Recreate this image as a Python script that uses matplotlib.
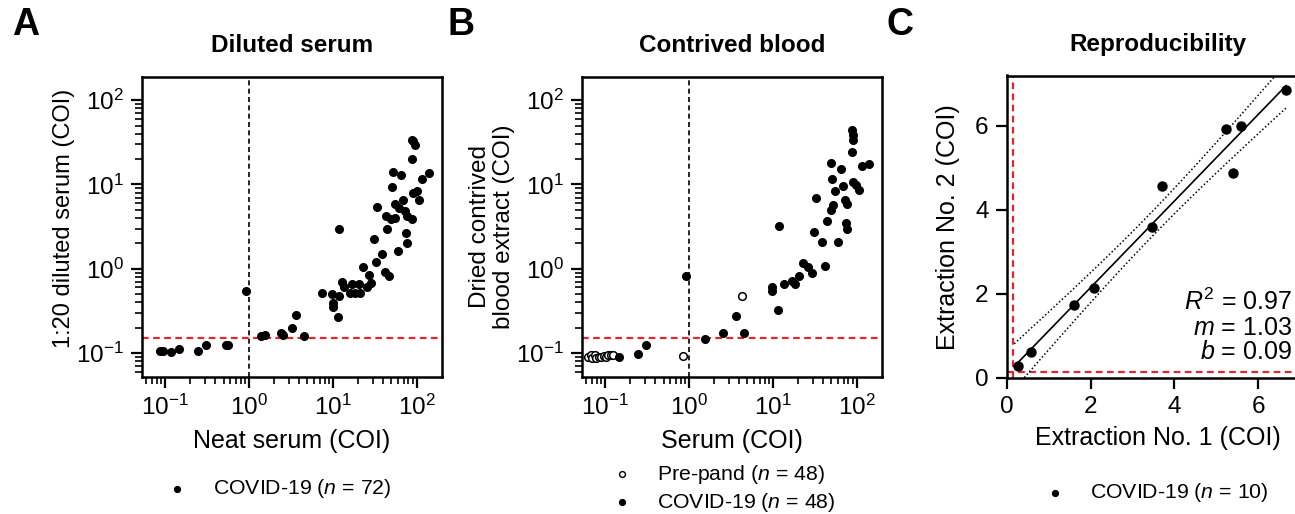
import numpy as np
import matplotlib
matplotlib.use('Agg')
import matplotlib.pyplot as plt
from matplotlib.lines import Line2D
from matplotlib.ticker import LogLocator, NullFormatter

plt.rcParams['font.family'] = ['Liberation Sans', 'DejaVu Sans']
plt.rcParams['mathtext.fontset'] = 'custom'
plt.rcParams['mathtext.rm'] = 'Liberation Sans'
plt.rcParams['mathtext.it'] = 'Liberation Sans:italic'
plt.rcParams['mathtext.bf'] = 'Liberation Sans:bold'
plt.rcParams['axes.unicode_minus'] = False

# ---------------- data ----------------
# Panel A: Diluted serum (COVID-19, n = 72)
a_neat = [0.087, 0.095, 0.117, 0.148, 0.25, 0.31, 0.54, 0.56, 0.93, 1.38, 1.55,
          2.4, 2.57, 3.24, 3.7, 4.6, 7.4, 9.8, 10.0, 10.0, 11.7, 12.0, 12.0,
          12.9, 13.5, 16.2, 17.0, 18.6, 20.4, 20.9, 22.9, 25.7, 26.9, 28.8,
          30.9, 33.1, 33.9, 38.9, 41.7, 46.8, 43.7, 44.7, 50.1, 52.5, 51.3,
          55.0, 55.0, 60.3, 61.7, 64.6, 69.2, 72.4, 74.1, 75.9, 77.6, 87.1,
          87.1, 87.1, 91.2, 95.5, 91.2, 100.0, 107.0, 117.0, 141.0]
a_dil = [0.107, 0.107, 0.102, 0.112, 0.107, 0.126, 0.126, 0.123, 0.55, 0.158,
         0.162, 0.174, 0.162, 0.20, 0.28, 0.158, 0.51, 0.50, 0.39, 0.355, 0.27,
         0.48, 3.0, 0.69, 0.60, 0.52, 0.66, 0.52, 0.66, 0.52, 1.05, 0.60, 0.85,
         0.68, 2.24, 1.20, 5.4, 1.51, 0.91, 0.81, 4.27, 3.0, 3.9, 14.1, 9.3,
         4.0, 5.9, 1.62, 5.2, 12.9, 6.5, 4.9, 2.63, 2.04, 4.27, 3.9, 20.0,
         33.9, 32.4, 29.5, 7.9, 8.3, 6.5, 11.7, 13.8]

# Panel B: Contrived blood
b_pre_serum = [0.063, 0.068, 0.071, 0.076, 0.079, 0.085, 0.091, 0.097, 0.103,
               0.110, 0.118, 0.124, 0.85, 4.3]
b_pre_blood = [0.091, 0.096, 0.088, 0.094, 0.088, 0.091, 0.090, 0.093, 0.089,
               0.095, 0.096, 0.094, 0.092, 0.47]
b_cov_serum = [0.148, 0.25, 0.31, 0.93, 1.55, 2.57, 3.7, 4.6, 9.8, 9.8, 11.7,
               12.0, 13.5, 17.0, 18.2, 20.4, 22.9, 26.3, 29.5, 30.9, 33.1, 38.9,
               41.7, 44.7, 49.0, 52.5, 50.1, 51.3, 55.0, 60.3, 64.6, 69.2, 72.4,
               77.6, 74.1, 77.6, 87.1, 87.1, 91.2, 91.2, 91.2, 97.7, 107.0,
               117.0, 141.0]
b_cov_blood = [0.091, 0.098, 0.126, 0.83, 0.145, 0.174, 0.275, 0.174, 0.60,
               0.55, 0.32, 3.2, 0.66, 0.71, 0.66, 0.81, 1.17, 1.05, 0.89, 2.75,
               6.9, 2.09, 1.07, 3.7, 5.0, 5.75, 17.8, 11.5, 8.3, 2.09, 15.1, 9.5,
               6.5, 5.9, 3.5, 3.0, 24.5, 44.7, 38.9, 33.9, 10.7, 9.8, 8.7, 16.6,
               17.4]

# Panel C: Reproducibility
c_ext1 = [0.28, 0.57, 1.61, 2.08, 3.47, 3.71, 5.24, 5.40, 5.59, 6.66]
c_ext2 = [0.28, 0.62, 1.73, 2.15, 3.59, 4.58, 5.92, 4.87, 6.00, 6.85]

cutoff = 0.15
log_ticks = [0.1, 1, 10, 100]
lin_ticks = [0, 2, 4, 6]
titles = ['Diluted serum', 'Contrived blood', 'Reproducibility']
fit_text = [r'$R^2$ = 0.97', r'$m$ = 1.03', r'$b$ = 0.09']

# ---------------- figure ----------------
W, H = 1295, 514
fig = plt.figure(figsize=(W / 100, H / 100), dpi=100)
RED = '#e3262b'
LABEL_FS = 18
TICK_FS = 17.5


def px_axes(l, t, r, b):
    return fig.add_axes([l / W, 1 - b / H, (r - l) / W, (b - t) / H])


def style(ax):
    for s in ax.spines.values():
        s.set_linewidth(1.8)
    ax.tick_params(which='major', direction='out', length=8, width=1.6,
                   labelsize=TICK_FS, pad=5, top=False, right=False)
    ax.tick_params(which='minor', direction='out', length=5, width=1.2,
                   top=False, right=False)


def log_axes(ax):
    ax.set_xscale('log')
    ax.set_yscale('log')
    ax.set_xlim(0.053, 199)
    ax.set_ylim(0.052, 190)
    ax.set_xticks(log_ticks)
    ax.set_yticks(log_ticks)
    for axis in (ax.xaxis, ax.yaxis):
        axis.set_minor_locator(LogLocator(base=10, subs=np.arange(2, 10)))
        axis.set_minor_formatter(NullFormatter())
    ax.axvline(1, color='black', ls=(0, (3, 2)), lw=1.2, zorder=1)
    ax.axhline(cutoff, color=RED, ls=(0, (3, 2)), lw=1.6, zorder=1)
    style(ax)


axA = px_axes(141.7, 76.7, 441.7, 377)
axB = px_axes(581.7, 76.7, 881.7, 377)
axC = px_axes(1006.7, 75.5, 1308.7, 378)

# Panel A
log_axes(axA)
axA.plot(a_neat, a_dil, 'o', ms=5.5, color='black', zorder=3)
axA.set_title(titles[0], fontsize=17.5, fontweight='bold', pad=18)
axA.set_xlabel('Neat serum (COI)', fontsize=LABEL_FS, labelpad=6)
axA.set_ylabel('1:20 diluted serum (COI)', fontsize=17, labelpad=1)
axA.yaxis.label.set_y(0.528)

# Panel B
log_axes(axB)
axB.plot(b_pre_serum, b_pre_blood, 'o', ms=5.5, mfc='white', mec='black',
         mew=1.1, zorder=3)
axB.plot(b_cov_serum, b_cov_blood, 'o', ms=5.5, color='black', zorder=3)
axB.set_title(titles[1], fontsize=17.5, fontweight='bold', pad=18)
axB.set_xlabel('Serum (COI)', fontsize=LABEL_FS, labelpad=6)
axB.set_ylabel('Dried contrived\nblood extract (COI)', fontsize=17.5,
               labelpad=0.5, linespacing=1.15)

# Panel C
x1 = np.array(c_ext1)
x2 = np.array(c_ext2)
axC.set_xlim(0, 7.2)
axC.set_ylim(0, 7.2)
axC.set_xticks(lin_ticks)
axC.set_yticks(lin_ticks)
style(axC)
axC.axvline(cutoff, color=RED, ls=(0, (3, 2)), lw=1.6, zorder=1)
axC.axhline(cutoff, color=RED, ls=(0, (3, 2)), lw=1.6, zorder=1)
m, b = np.polyfit(x1, x2, 1)
n = len(x1)
resid = x2 - (m * x1 + b)
s = np.sqrt(np.sum(resid ** 2) / (n - 2))
sxx = np.sum((x1 - x1.mean()) ** 2)
xx = np.linspace(x1.min() - 0.1, x1.max(), 200)
yy = m * xx + b
half = 2.306 * s * np.sqrt(1.0 / n + (xx - x1.mean()) ** 2 / sxx)
axC.plot(xx, yy, color='black', lw=1.2, zorder=2)
axC.plot(xx, yy + half, color='black', lw=1.1, ls=(0, (1, 1.5)), zorder=2)
axC.plot(xx, yy - half, color='black', lw=1.1, ls=(0, (1, 1.5)), zorder=2)
axC.plot(x1, x2, 'o', ms=6.5, color='black', zorder=3)
axC.set_title(titles[2], fontsize=17.5, fontweight='bold', pad=18)
axC.set_xlabel('Extraction No. 1 (COI)', fontsize=LABEL_FS, labelpad=6)
axC.set_ylabel('Extraction No. 2 (COI)', fontsize=LABEL_FS, labelpad=11)

for txt, py in zip(fit_text, [310, 335, 359]):
    fig.text(1292 / W, 1 - py / H, txt, fontsize=18, ha='right', va='baseline')

# panel letters
for letter, px in zip(['A', 'B', 'C'], [12, 448, 887]):
    fig.text(px / W, 1 - 35 / H, letter, fontsize=27, fontweight='bold',
             ha='left', va='baseline')


# legends (manual, below each panel)
def legend_entry(mx, my, tx, label, filled=True):
    fig.add_artist(Line2D([mx / W], [1 - my / H], marker='o', ms=4.2,
                          mfc='black' if filled else 'white', mec='black',
                          mew=1.0, ls='none', transform=fig.transFigure))
    fig.text(tx / W, 1 - my / H, label, fontsize=15.3, ha='left', va='center')


legend_entry(177, 489, 213, r'COVID-19 ($n$ = 72)')
legend_entry(622, 474, 657, r'Pre-pand ($n$ = 48)', filled=False)
legend_entry(622, 502, 657, r'COVID-19 ($n$ = 48)')
legend_entry(1055, 493, 1090, r'COVID-19 ($n$ = 10)')

fig.savefig('out.png', dpi=100)
